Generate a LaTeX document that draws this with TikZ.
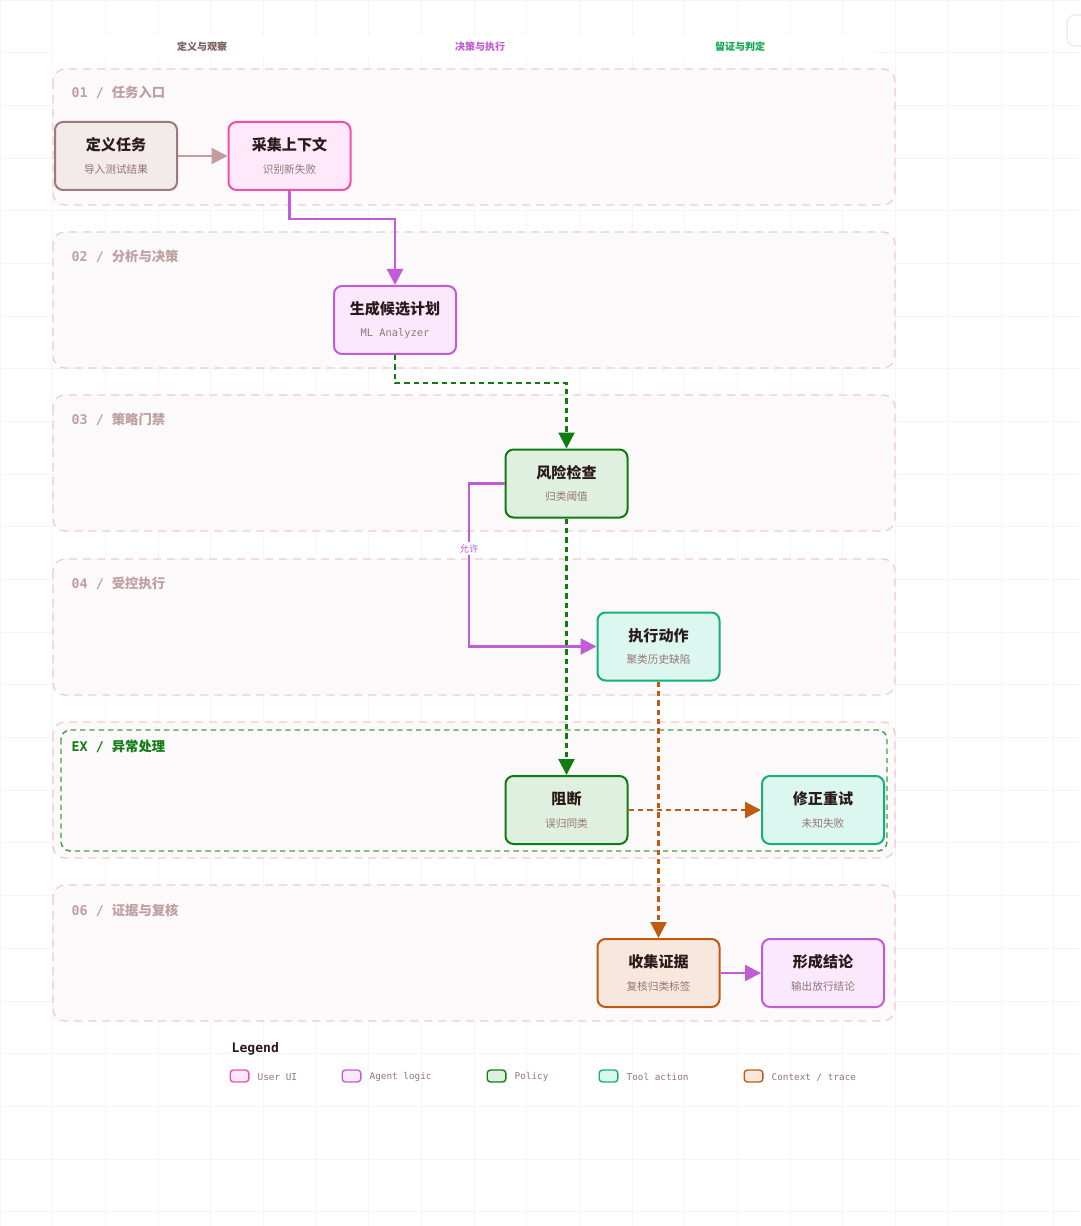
\documentclass[tikz,border=0pt]{standalone}
\usepackage{fontspec}
\setmainfont{Noto Sans CJK SC}
\newfontfamily\cjk{Noto Sans CJK SC}
\newfontfamily\monof{DejaVu Sans Mono}
\usetikzlibrary{arrows.meta,calc}
\definecolor{gridc}{HTML}{FAF3F4}
\definecolor{lanebd}{HTML}{ECCBCE}
\definecolor{lanefill}{HTML}{FCF9FA}
\definecolor{lanetxt}{HTML}{BFA0A2}
\definecolor{titletxt}{HTML}{2A1A1A}
\definecolor{subtxt}{HTML}{957575}
\definecolor{userbd}{HTML}{F050A8}
\definecolor{userfill}{HTML}{FFE8FA}
\definecolor{agentbd}{HTML}{C25BD6}
\definecolor{agentfill}{HTML}{FAE8FD}
\definecolor{policybd}{HTML}{107C10}
\definecolor{policyfill}{HTML}{E0F0E0}
\definecolor{toolbd}{HTML}{15B07A}
\definecolor{toolfill}{HTML}{DCF7EF}
\definecolor{ctxbd}{HTML}{C05A10}
\definecolor{ctxfill}{HTML}{F8E7DC}
\definecolor{neutbd}{HTML}{9E7A7A}
\definecolor{neutfill}{HTML}{F3EAEA}
\definecolor{neutarrow}{HTML}{C49C9C}
\definecolor{hdrA}{HTML}{7A5A5A}
\definecolor{hdrB}{HTML}{C25BD6}
\definecolor{hdrC}{HTML}{10A850}
\definecolor{exgreen}{HTML}{138A13}
\tikzset{
  lanebox/.style={draw=lanebd, fill=lanefill, line width=0.9pt, dash pattern=on 6pt off 4.5pt, rounded corners=9pt},
  lanelabel/.style={anchor=west, text=lanetxt, font=\monof\bfseries\fontsize{10}{12}\selectfont},
  card/.style={minimum width=91.5pt, minimum height=51pt, rounded corners=6pt, line width=1.5pt, align=center, inner sep=0pt},
  usercard/.style={card, draw=userbd, fill=userfill},
  agentcard/.style={card, draw=agentbd, fill=agentfill},
  policycard/.style={card, draw=policybd, fill=policyfill},
  toolcard/.style={card, draw=toolbd, fill=toolfill},
  ctxcard/.style={card, draw=ctxbd, fill=ctxfill},
  neutcard/.style={card, draw=neutbd, fill=neutfill},
  conn/.style={line width=1.7pt, -{Triangle[length=12pt,width=12pt]}},
  dconn/.style={conn, dash pattern=on 4pt off 3pt},
  swatch/.style={minimum width=14pt, minimum height=9pt, rounded corners=2.5pt, line width=1pt, inner sep=0pt},
  legtxt/.style={anchor=west, text=subtxt, font=\monof\fontsize{7}{8}\selectfont},
}
\newcommand{\cardtext}[2]{{\cjk\bfseries\fontsize{11.3}{13}\selectfont\color{titletxt}#1}\\[5pt]{\cjk\fontsize{8}{9}\selectfont\color{subtxt}#2}}
\begin{document}
\begin{tikzpicture}[x=0.75pt,y=-0.75pt]
\useasboundingbox (0,0) rectangle (1080,1226);
\fill[white] (0,0) rectangle (1080,1226);
% grid
\foreach \i in {0,...,20} {\draw[gridc, line width=0.6pt] ({\i*52.68},0) -- ({\i*52.68},1226);}
\foreach \j in {0,...,23} {\draw[gridc, line width=0.6pt] (0,{\j*52.68}) -- (1080,{\j*52.68});}
% top-right partial element
\draw[draw=black!12!blue!10, line width=0.8pt, rounded corners=6pt] (1067,15) rectangle (1100,46);
% header strip
\fill[white] (53,36) rectangle (875,58);
\node[text=hdrA, font=\cjk\bfseries\fontsize{7.5}{9}\selectfont] (hA) at (202,47) {定义与观察};
\node[text=hdrB, font=\cjk\bfseries\fontsize{7.5}{9}\selectfont] (hB) at (480,47) {决策与执行};
\node[text=hdrC, font=\cjk\bfseries\fontsize{7.5}{9}\selectfont] (hC) at (740,47) {留证与判定};
% lanes
\draw[lanebox] (53,69) rectangle (895,205);
\draw[lanebox] (53,232) rectangle (895,368);
\draw[lanebox] (53,395) rectangle (895,531);
\draw[lanebox] (53,559) rectangle (895,695);
\draw[lanebox] (53,722) rectangle (895,858);
\draw[lanebox] (53,885) rectangle (895,1021);
\draw[exgreen!80, line width=1.1pt, dash pattern=on 4pt off 3pt, rounded corners=7pt] (61,730) rectangle (887,851);
\node[lanelabel] (l1) at (67,92) {01 / {\cjk 任务入口}};
\node[lanelabel] (l2) at (67,256) {02 / {\cjk 分析与决策}};
\node[lanelabel] (l3) at (67,419) {03 / {\cjk 策略门禁}};
\node[lanelabel] (l4) at (67,583) {04 / {\cjk 受控执行}};
\node[lanelabel, text=exgreen!90!black] (l5) at (67,746) {EX / {\cjk 异常处理}};
\node[lanelabel] (l6) at (67,910) {06 / {\cjk 证据与复核}};
% nodes
\node[neutcard] (define) at (116,156) {\cardtext{定义任务}{导入测试结果}};
\node[usercard] (collect) at (289.5,156) {\cardtext{采集上下文}{识别新失败}};
\node[agentcard] (plan) at (395,320) {{\cjk\bfseries\fontsize{11.3}{13}\selectfont\color{titletxt}生成候选计划}\\[5pt]{\monof\fontsize{7.8}{9}\selectfont\color{subtxt}ML Analyzer}};
\node[policycard] (risk) at (566.5,483.5) {\cardtext{风险检查}{归类阈值}};
\node[toolcard] (exec) at (658.5,646.5) {\cardtext{执行动作}{聚类历史缺陷}};
\node[policycard] (block) at (566.5,810) {\cardtext{阻断}{误归同类}};
\node[toolcard] (retry) at (823,810) {\cardtext{修正重试}{未知失败}};
\node[ctxcard] (evid) at (658.5,973) {\cardtext{收集证据}{复核归类标签}};
\node[agentcard] (concl) at (823,973) {\cardtext{形成结论}{输出放行结论}};
% connectors
\draw[conn, neutarrow] (define) -- (collect);
\draw[conn, agentbd] (collect.south) -- ++(0,28) -| (plan.north);
\draw[dconn, policybd] (plan.south) -- ++(0,28) -| (risk.north);
\draw[conn, agentbd] (risk.west) -- (469,483.5) -- (469,646.5) node[pos=0.4, fill=white, inner sep=1.5pt, text=agentbd, font=\cjk\fontsize{7}{8}\selectfont] (allow) {允许} -- (exec.west);
\draw[dconn, policybd] (risk.south) -- (block.north);
\draw[dconn, ctxbd] (exec.south) -- (evid.north);
\draw[dconn, ctxbd] (block.east) -- (retry.west);
\draw[conn, agentbd] (evid.east) -- (concl.west);
% legend
\node[anchor=west, text=titletxt, font=\monof\bfseries\fontsize{9.8}{11}\selectfont] (leg) at (227,1049) {Legend};
\node[swatch, draw=userbd, fill=userfill] (s1) at (239.5,1076) {};
\node[legtxt] (t1) at (253,1077) {User UI};
\node[swatch, draw=agentbd, fill=agentfill] (s2) at (351.5,1076) {};
\node[legtxt] (t2) at (365,1077) {Agent logic};
\node[swatch, draw=policybd, fill=policyfill] (s3) at (496.5,1076) {};
\node[legtxt] (t3) at (510,1077) {Policy};
\node[swatch, draw=toolbd, fill=toolfill] (s4) at (608.5,1076) {};
\node[legtxt] (t4) at (622,1077) {Tool action};
\node[swatch, draw=ctxbd, fill=ctxfill] (s5) at (753.5,1076) {};
\node[legtxt] (t5) at (767,1077) {Context / trace};
\end{tikzpicture}
\end{document}
